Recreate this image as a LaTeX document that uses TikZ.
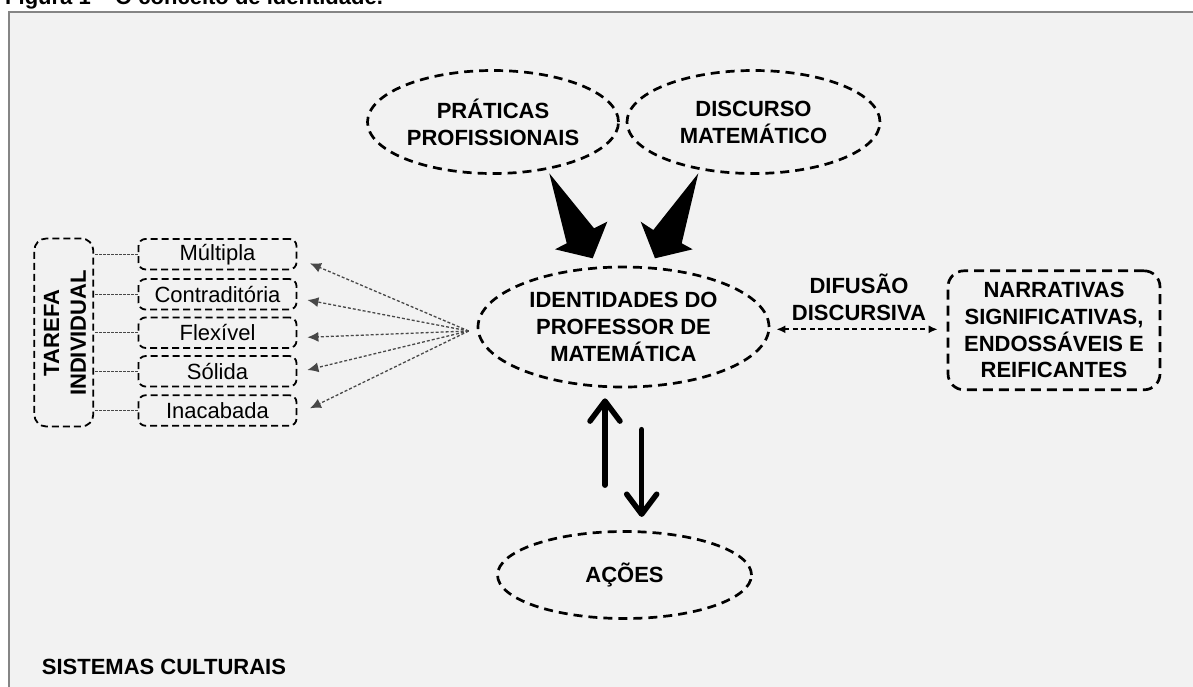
\documentclass[tikz,border=0pt]{standalone}
\usepackage{fontspec}
\setmainfont{Liberation Sans}
\usetikzlibrary{shapes.geometric,arrows.meta,calc}
\definecolor{bgc}{HTML}{F2F2F2}
\definecolor{framec}{HTML}{858585}
\definecolor{dotgray}{HTML}{484848}
\begin{document}
\begin{tikzpicture}[x=1pt,y=-1pt,
  big/.style={font=\fontsize{22}{27}\selectfont\bfseries},
  ell/.style={ellipse, draw, line width=2.7pt, dash pattern=on 9pt off 6pt, inner sep=0pt, align=center, big},
  sbox/.style={draw, rounded corners=7pt, line width=1.8pt, dash pattern=on 7pt off 4pt, minimum width=158pt, minimum height=30.5pt, inner sep=0pt, font=\fontsize{22}{26}\selectfont},
  garrow/.style={dotgray, line width=1.3pt, dash pattern=on 3pt off 2pt, -{Latex[length=11pt,width=10pt]}},
  thinline/.style={dotgray, line width=1pt, dash pattern=on 2.5pt off 1.5pt},
  dblarrow/.style={black, line width=1.8pt, dash pattern=on 5pt off 3.5pt, {Latex[length=9pt,width=8pt]}-{Latex[length=9pt,width=8pt]}},
  fatarrow/.style={black, line width=5.5pt, line cap=round, -{Straight Barb[length=20pt,width=30pt,round]}}
]
\useasboundingbox (0,0) rectangle (1193,686);
\begin{scope}
\clip (0,0) rectangle (1193,686);
\fill[white] (0,0) rectangle (1193,686);
\fill[bgc] (9,12) rectangle (1200,700);
\node[anchor=base west, inner sep=0pt, font=\fontsize{22}{26}\selectfont\bfseries] (cap) at (5,4.5) {Figura 1 – O conceito de identidade.};
\draw[framec, line width=2pt] (9,700) -- (9,12) -- (1200,12);
\end{scope}

% ellipses
\node[ell, minimum width=251pt, minimum height=103pt] (prat) at (493,122) {PRÁTICAS\\PROFISSIONAIS};
\node[ell, minimum width=253pt, minimum height=103pt] (disc) at (753.5,122) {DISCURSO\\MATEMÁTICO};
\node[ell, minimum width=291pt, minimum height=120pt] (ident) at (623.5,327) {IDENTIDADES DO\\PROFESSOR DE\\MATEMÁTICA};
\node[ell, minimum width=254pt, minimum height=87pt] (acoes) at (624.5,575) {AÇÕES};

% right box
\node[draw, rounded corners=16pt, line width=2.7pt, dash pattern=on 10pt off 6pt, minimum width=212pt, minimum height=119pt, align=center, inner sep=0pt, font=\fontsize{22}{26.7}\selectfont\bfseries] (narr) at (1054,330.3) {NARRATIVAS\\SIGNIFICATIVAS,\\ENDOSSÁVEIS E\\REIFICANTES};
\node[align=center, inner sep=0pt, font=\fontsize{22}{26.7}\selectfont\bfseries] (difu) at (859,297) {DIFUSÃO\\DISCURSIVA};

% left boxes
\node[draw, rounded corners=12pt, line width=1.8pt, dash pattern=on 7pt off 4pt, minimum width=59pt, minimum height=188pt, inner sep=0pt] (tar) at (63.8,332.5) {};
\node[rotate=90, align=center, inner sep=0pt, font=\fontsize{22}{26.7}\selectfont\bfseries] (tartext) at (65,333) {TAREFA\\INDIVIDUAL};
\node[sbox] (m1) at (217.5,254.2) {Múltipla};
\node[sbox] (m2) at (217.5,294.3) {Contraditória};
\node[sbox] (m3) at (217.5,332.7) {Flexível};
\node[sbox] (m4) at (217.5,371.3) {Sólida};
\node[sbox] (m5) at (217.5,410.5) {Inacabada};

\foreach \m in {m1,m2,m3,m4,m5}
  \draw[thinline] (\m.west) -- (\m.west -| tar.east);

% dotted arrows from identity ellipse
\coordinate (src) at ([shift={(-8,4)}]ident.west);
\draw[garrow] (src) -- ([shift={(12.6,9.1)}]m1.east);
\draw[garrow] (src) -- ([shift={(10,5.7)}]m2.east);
\draw[garrow] (src) -- ([shift={(10,4.6)}]m3.east);
\draw[garrow] (src) -- ([shift={(10,-1.3)}]m4.east);
\draw[garrow] (src) -- ([shift={(12.6,-2.2)}]m5.east);

% double dashed arrow
\draw[dblarrow] ([shift={(6,2.3)}]ident.east) -- ([shift={(-9,-1)}]narr.west);

% big black arrows
\fill[black] (549.3,173.3) -- (594,228.3) -- (607.3,221.7) -- (592.7,258.3) -- (555,249.3) -- (566.7,243.3) -- cycle;
\fill[black] (698.3,173.3) -- (653.3,230) -- (640.7,221.7) -- (655,258.3) -- (692.7,249.3) -- (681.7,243.3) -- cycle;

% up / down arrows
\draw[fatarrow] ([shift={(-19.5,-45)}]acoes.north) -- ([shift={(-18.5,10)}]ident.south);
\draw[fatarrow] ([shift={(18.2,41.3)}]ident.south) -- ([shift={(17.2,-13.2)}]acoes.north);

% bottom label
\node[anchor=west, inner sep=0pt, big] (sist) at (41.7,666.7) {SISTEMAS CULTURAIS};
\end{tikzpicture}
\end{document}
